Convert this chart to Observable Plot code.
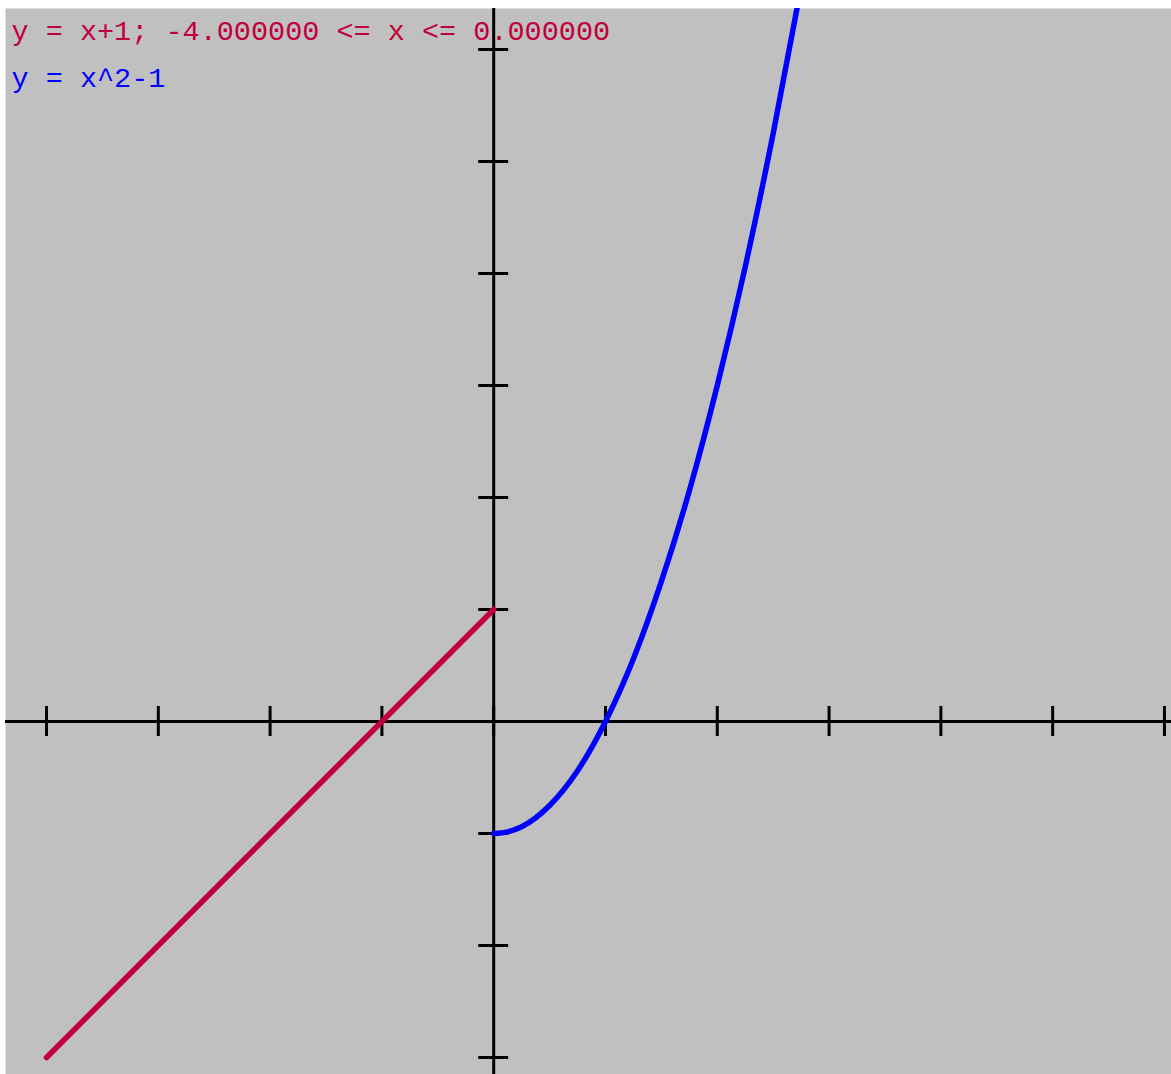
<!DOCTYPE html>
<html>
<head>
<meta charset="utf-8">
<script src="https://cdn.jsdelivr.net/npm/d3@7"></script>
<script src="https://cdn.jsdelivr.net/npm/@observablehq/plot@0.6"></script>
<style>
  html, body { margin: 0; padding: 0; background: #ffffff; }
  #chart svg { display: block; }
</style>
</head>
<body>
<div id="chart"></div>
<script>
// ---- data ----
const xTicks = [-4, -3, -2, -1, 0, 1, 2, 3, 4, 5, 6];
const yTicks = [-3, -2, -1, 0, 1, 2, 3, 4, 5, 6];

const redX = [-4, 0];
const redY = [-3, 1];

const blueX = [0, 0.125, 0.25, 0.5, 0.75, 1, 1.25, 1.5, 1.75, 2, 2.25, 2.5, 2.75];
const blueY = [-1, -0.985, -0.94, -0.75, -0.44, 0, 0.56, 1.25, 2.06, 3, 4.06, 5.25, 6.56];

const labels = ["y = x+1; -4.000000 <= x <= 0.000000", "y = x^2-1"];
const labelColors = ["#c0003c", "#0000ff"];

const xDomain = [-4.367, 6.063];
const yDomain = [-3.152, 6.366];

const redData = redX.map((x, i) => ({x, y: redY[i]}));
const blueData = blueX.map((x, i) => ({x, y: blueY[i]}));

const chart = Plot.plot({
  width: 1171,
  height: 1074,
  marginLeft: 5,
  marginTop: 8,
  marginRight: 0,
  marginBottom: 0,
  style: {background: "#ffffff", overflow: "visible"},
  x: {domain: xDomain, axis: null},
  y: {domain: yDomain, axis: null},
  marks: [
    Plot.frame({fill: "#c0c0c0", stroke: "none"}),
    Plot.ruleY([0], {stroke: "#000", strokeWidth: 3}),
    Plot.ruleX([0], {stroke: "#000", strokeWidth: 3}),
    Plot.ruleX(xTicks, {x: d => d, y1: 0, y2: 0, insetTop: -15, insetBottom: -15, stroke: "#000", strokeWidth: 3}),
    Plot.ruleY(yTicks, {y: d => d, x1: 0, x2: 0, insetLeft: -15, insetRight: -15, stroke: "#000", strokeWidth: 3}),
    Plot.line(redData, {x: "x", y: "y", stroke: labelColors[0], strokeWidth: 5.5, strokeLinecap: "round"}),
    Plot.line(blueData, {x: "x", y: "y", stroke: labelColors[1], strokeWidth: 5.5, strokeLinecap: "round", curve: "monotone-x", clip: true}),
    Plot.text([labels[0]], {frameAnchor: "top-left", text: d => d, dx: 6, dy: 11, lineAnchor: "top", textAnchor: "start",
      fill: labelColors[0], fontFamily: "'Liberation Mono', monospace", fontSize: 28.5}),
    Plot.text([labels[1]], {frameAnchor: "top-left", text: d => d, dx: 6, dy: 58, lineAnchor: "top", textAnchor: "start",
      fill: labelColors[1], fontFamily: "'Liberation Mono', monospace", fontSize: 28.5})
  ]
});
document.getElementById("chart").appendChild(chart);
</script>
</body>
</html>
